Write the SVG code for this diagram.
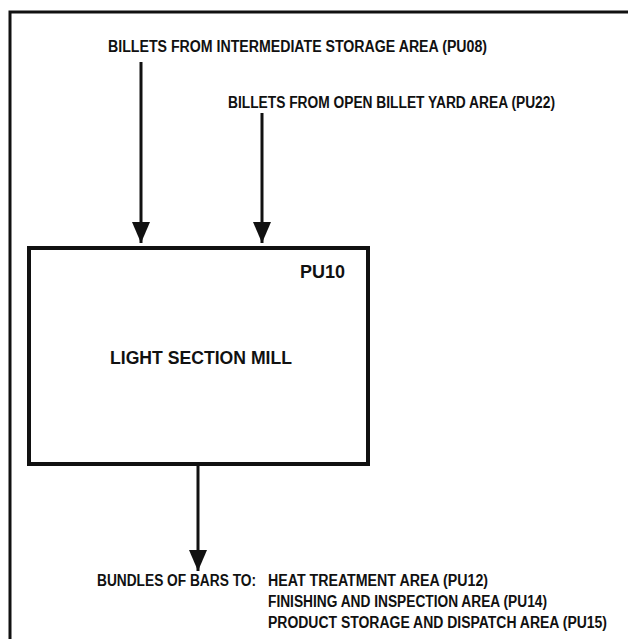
<svg xmlns="http://www.w3.org/2000/svg" width="628" height="639" viewBox="0 0 628 639">
<style>
.t{font-family:"Liberation Sans",Arial,sans-serif;font-weight:bold;fill:#111;}
.s{font-size:16px;}
.b{font-size:18px;}
.ln{stroke:#111;stroke-width:3;fill:none;}
</style>
<defs>
<marker id="ah" markerWidth="7" markerHeight="6" refX="7" refY="3" orient="auto" markerUnits="strokeWidth">
<path d="M0,0 L7,3 L0,6 Z" fill="#111"/>
</marker>
</defs>
<rect width="628" height="639" fill="#fff"/>
<g id="frame">
<path d="M10,639 L10,12 L628,12" stroke="#111" stroke-width="3" fill="none"/>
</g>
<g id="connectors">
<line class="ln" x1="141" y1="62" x2="141" y2="243" marker-end="url(#ah)"/>
<line class="ln" x1="262" y1="113" x2="262" y2="243" marker-end="url(#ah)"/>
<line class="ln" x1="198" y1="464" x2="198" y2="571" marker-end="url(#ah)"/>
</g>
<g id="src1">
<text class="t s" x="108" y="52" textLength="379" lengthAdjust="spacingAndGlyphs">BILLETS FROM INTERMEDIATE STORAGE AREA (PU08)</text>
</g>
<g id="src2">
<text class="t s" x="228" y="108" textLength="327" lengthAdjust="spacingAndGlyphs">BILLETS FROM OPEN BILLET YARD AREA (PU22)</text>
</g>
<g id="pu10">
<rect x="29" y="248" width="339" height="216" fill="none" stroke="#111" stroke-width="4"/>
<text class="t b" x="300" y="278" textLength="45" lengthAdjust="spacingAndGlyphs">PU10</text>
<text class="t b" x="110" y="364" textLength="182" lengthAdjust="spacingAndGlyphs">LIGHT SECTION MILL</text>
</g>
<g id="dest">
<text class="t s" x="97" y="586" textLength="159" lengthAdjust="spacingAndGlyphs">BUNDLES OF BARS TO:</text>
<text class="t s" x="268" y="586" textLength="220" lengthAdjust="spacingAndGlyphs">HEAT TREATMENT AREA (PU12)</text>
<text class="t s" x="268" y="607" textLength="279" lengthAdjust="spacingAndGlyphs">FINISHING AND INSPECTION AREA (PU14)</text>
<text class="t s" x="268" y="628" textLength="339" lengthAdjust="spacingAndGlyphs">PRODUCT STORAGE AND DISPATCH AREA (PU15)</text>
</g>
</svg>
